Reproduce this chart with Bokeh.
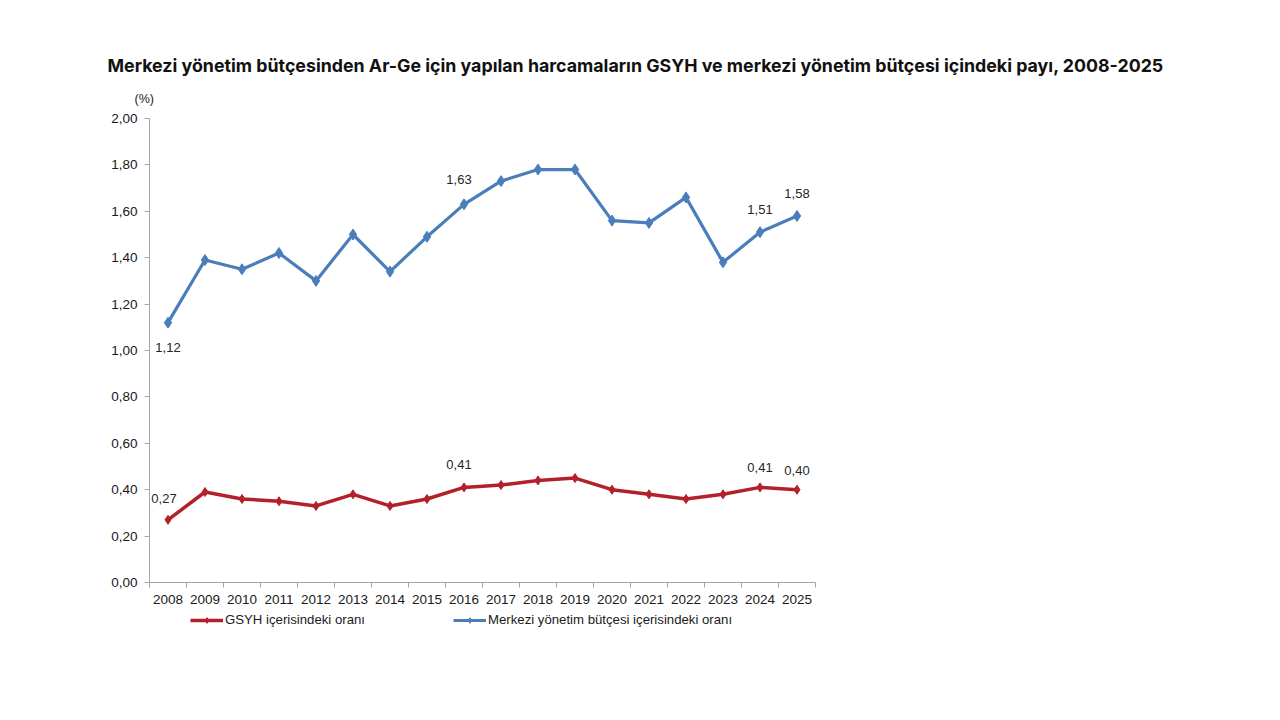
from bokeh.plotting import figure
from bokeh.layouts import column
from bokeh.models import FixedTicker, Label, Legend, LegendItem, Title
from bokeh.embed import file_html
from bokeh.resources import INLINE

years = ["2008", "2009", "2010", "2011", "2012", "2013", "2014", "2015", "2016",
         "2017", "2018", "2019", "2020", "2021", "2022", "2023", "2024", "2025"]
budget_share = [1.12, 1.39, 1.35, 1.42, 1.30, 1.50, 1.34, 1.49, 1.63,
                1.73, 1.78, 1.78, 1.56, 1.55, 1.66, 1.38, 1.51, 1.58]
gdp_share = [0.27, 0.39, 0.36, 0.35, 0.33, 0.38, 0.33, 0.36, 0.41,
             0.42, 0.44, 0.45, 0.40, 0.38, 0.36, 0.38, 0.41, 0.40]
y_ticks = [0.0, 0.2, 0.4, 0.6, 0.8, 1.0, 1.2, 1.4, 1.6, 1.8, 2.0]
y_tick_labels = ["0,00", "0,20", "0,40", "0,60", "0,80", "1,00", "1,20", "1,40", "1,60", "1,80", "2,00"]
budget_labeled_years = ["2008", "2016", "2024", "2025"]
gdp_labeled_years = ["2008", "2016", "2024", "2025"]

title_text = "Merkezi yönetim bütçesinden Ar-Ge için yapılan harcamaların GSYH ve merkezi yönetim bütçesi içindeki payı, 2008-2025"
unit_text = "(%)"
series_gdp = "GSYH içerisindeki oranı"
series_budget = "Merkezi yönetim bütçesi içerisindeki oranı"

BLUE = "#4A7EBB"
RED = "#B3202A"
FONT = "Liberation Sans"

xs = [i + 0.5 for i in range(len(years))]

p = figure(frame_width=666, frame_height=464, x_range=(0, len(years)), y_range=(0, 2.0),
           output_backend="svg", toolbar_location=None,
           min_border_left=149, min_border_right=449, min_border_top=118, min_border_bottom=28)
p.outline_line_color = None
p.grid.visible = False
p.background_fill_color = "white"

# axes
p.xaxis.ticker = FixedTicker(ticks=xs, minor_ticks=list(range(len(years) + 1)))
p.xaxis.major_label_overrides = {x: y for x, y in zip(xs, years)}
p.xaxis.major_tick_out = 0
p.xaxis.major_tick_in = 0
p.xaxis.minor_tick_out = 5
p.xaxis.minor_tick_in = 0
p.yaxis.ticker = FixedTicker(ticks=y_ticks)
p.yaxis.major_label_overrides = {t: l for t, l in zip(y_ticks, y_tick_labels)}
p.yaxis.major_tick_out = 5
p.yaxis.major_tick_in = 0
p.yaxis.minor_tick_out = 0
p.yaxis.minor_tick_in = 0
for ax in (p.xaxis, p.yaxis):
    ax.axis_line_color = "#A6A6A6"
    ax.major_tick_line_color = "#A6A6A6"
    ax.minor_tick_line_color = "#A6A6A6"
    ax.major_label_text_font = FONT
    ax.major_label_text_font_size = "13.5px"
    ax.major_label_text_color = "#1a1a1a"
p.xaxis.major_label_standoff = 7
p.yaxis.major_label_standoff = 7

# series
r_gl = p.line(xs, gdp_share, line_color=RED, line_width=3.5)
r_gm = p.scatter(xs, gdp_share, marker="diamond", size=9, fill_color=RED, line_color=RED)
r_bl = p.line(xs, budget_share, line_color=BLUE, line_width=3.2)
r_bm = p.scatter(xs, budget_share, marker="diamond", size=11, fill_color=BLUE, line_color=BLUE)

# data labels
def fmt(v):
    return f"{v:.2f}".replace(".", ",")

budget_offsets = {"2008": (0, -25), "2016": (-5, 25), "2024": (0, 23), "2025": (0, 22)}
gdp_offsets = {"2008": (-4, 21), "2016": (-5, 23), "2024": (0, 20), "2025": (0, 19)}
for yr in budget_labeled_years:
    i = years.index(yr)
    dx, dy = budget_offsets[yr]
    p.add_layout(Label(x=xs[i], y=budget_share[i], text=fmt(budget_share[i]), x_offset=dx, y_offset=dy,
                       text_align="center", text_baseline="middle", text_font=FONT,
                       text_font_size="13px", text_color="#262626"))
for yr in gdp_labeled_years:
    i = years.index(yr)
    dx, dy = gdp_offsets[yr]
    p.add_layout(Label(x=xs[i], y=gdp_share[i], text=fmt(gdp_share[i]), x_offset=dx, y_offset=dy,
                       text_align="center", text_baseline="middle", text_font=FONT,
                       text_font_size="13px", text_color="#262626"))

# unit and title (above panel; first added is nearest the frame)
p.add_layout(Title(text=unit_text, align="left", offset=-15, text_font=FONT, text_font_size="12.5px",
                   text_font_style="normal", text_color="#1a1a1a", standoff=25), "above")
p.add_layout(Title(text=title_text, align="left", offset=-42, text_font="Inter", text_font_size="17.8px",
                   text_font_style="bold", text_color="#111111", standoff=3), "above")

# legend strip below the chart (its own copies of the series lie outside its view)
lf = figure(frame_width=666, frame_height=40, x_range=(0, len(years)), y_range=(10, 11),
            output_backend="svg", toolbar_location=None,
            x_axis_location=None, y_axis_location=None,
            min_border_left=149, min_border_right=449, min_border_top=0, min_border_bottom=0)
lf.outline_line_color = None
lf.grid.visible = False
l_gl = lf.line(xs, gdp_share, line_color=RED, line_width=3.5)
l_gm = lf.scatter(xs, gdp_share, marker="diamond", size=9, fill_color=RED, line_color=RED)
l_bl = lf.line(xs, budget_share, line_color=BLUE, line_width=3.2)
l_bm = lf.scatter(xs, budget_share, marker="diamond", size=9, fill_color=BLUE, line_color=BLUE)

legend = Legend(items=[LegendItem(label=series_gdp, renderers=[l_gl, l_gm]),
                       LegendItem(label=series_budget, renderers=[l_bl, l_bm])],
                location=(41, 23), orientation="horizontal",
                glyph_width=33, glyph_height=14, label_standoff=2, spacing=88,
                padding=0, margin=0, border_line_color=None, background_fill_alpha=0,
                label_text_font=FONT, label_text_font_size="13.2px", label_text_color="#1a1a1a")
lf.add_layout(legend)

open("out.html", "w").write(file_html(column(p, lf, spacing=0), INLINE))
